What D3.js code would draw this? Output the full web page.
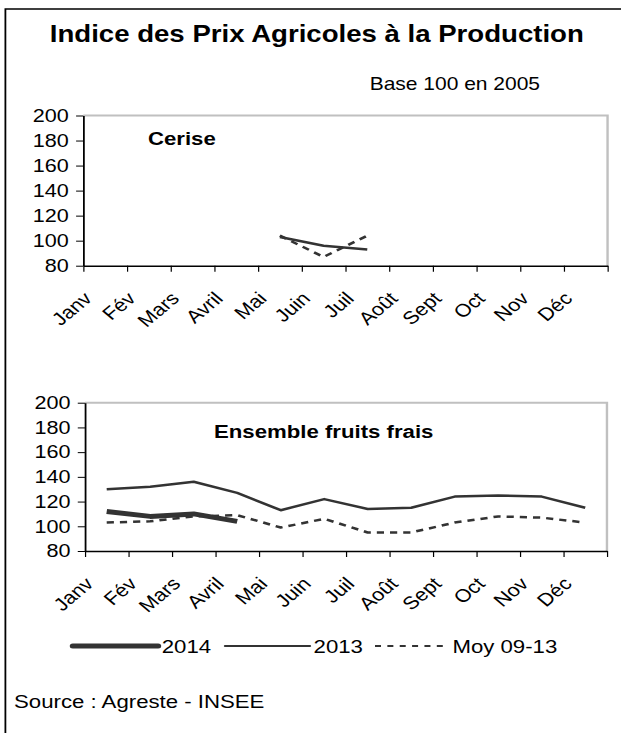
<!DOCTYPE html>
<html>
<head>
<meta charset="utf-8">
<script src="https://cdn.jsdelivr.net/npm/d3@7"></script>
<style>
  body { margin: 0; background: #fff; }
  svg { display: block; font-family: "Liberation Sans", Arial, sans-serif; }
</style>
</head>
<body>
<svg id="chart"></svg>
<script>
// Canvas size
const width = 621, height = 733;
const SX = 1.2; // the original picture is stretched sideways

// Data
const months = ["Janv", "Fév", "Mars", "Avril", "Mai", "Juin", "Juil", "Août", "Sept", "Oct", "Nov", "Déc"];
const yTicks = [80, 100, 120, 140, 160, 180, 200];

const cerise2014 = [null, null, null, null, null, null, null, null, null, null, null, null];
const cerise2013 = [null, null, null, null, 103, 96, 93, null, null, null, null, null];
const ceriseMoy  = [null, null, null, null, 104, 87, 104, null, null, null, null, null];

const fruits2014 = [112, 108, 110, 104, null, null, null, null, null, null, null, null];
const fruits2013 = [130, 132, 136, 127, 113, 122, 114, 115, 124, 125, 124, 115];
const fruitsMoy  = [103, 104, 108, 109, 99, 106, 95, 95, 103, 108, 107, 103];

const lineColor = "#333";

const svg = d3.select("#chart")
    .attr("width", width)
    .attr("height", height);

// everything is drawn in a narrower space, then stretched
const g = svg.append("g").attr("transform", `scale(${SX},1)`);

// outer frame, right and bottom sides fall outside the picture
g.append("rect")
    .attr("x", 4.5).attr("y", 9)
    .attr("width", 540).attr("height", 740)
    .attr("fill", "none")
    .attr("stroke", "black")
    .attr("stroke-width", 1.5);

// title
g.append("text")
    .attr("x", 264).attr("y", 42)
    .attr("text-anchor", "middle")
    .attr("font-size", 23)
    .attr("font-weight", "bold")
    .text("Indice des Prix Agricoles à la Production");

g.append("text")
    .attr("x", 450).attr("y", 90)
    .attr("text-anchor", "end")
    .attr("font-size", 17.5)
    .text("Base 100 en 2005");

// one small chart (panel) with its own scales
function drawPanel(opts) {
    const { left, right, top, bottom, label, labelX, labelY, series } = opts;

    const x = d3.scaleBand().domain(months).range([left, right]);
    const xEdge = d3.scaleLinear().domain([0, months.length]).range([left, right]);
    const y = d3.scaleLinear().domain([80, 200]).range([bottom, top]);

    // light grey box (top and right sides)
    g.append("path")
        .attr("d", `M${left},${top}H${right}V${bottom}`)
        .attr("fill", "none")
        .attr("stroke", "#c0c0c0")
        .attr("stroke-width", 2);

    // y axis
    const yAxis = g.append("g")
        .attr("transform", `translate(${left},0)`)
        .call(d3.axisLeft(y).tickValues(yTicks).tickSize(6).tickSizeOuter(0));
    yAxis.select(".domain").attr("stroke", "black").attr("stroke-width", 1.5);
    yAxis.selectAll(".tick line").attr("stroke", "black");
    yAxis.selectAll(".tick text")
        .attr("font-size", 18)
        .attr("font-family", "Liberation Sans, Arial, sans-serif")
        .attr("fill", "black")
        .attr("x", -12);

    // x axis: ticks sit between months
    const xAxis = g.append("g")
        .attr("transform", `translate(0,${bottom})`)
        .call(d3.axisBottom(xEdge).tickValues(d3.range(months.length + 1)).tickFormat("").tickSize(6).tickSizeOuter(0));
    xAxis.select(".domain").attr("stroke", "black").attr("stroke-width", 1.5);
    xAxis.selectAll(".tick line").attr("stroke", "black");

    // rotated month labels
    g.append("g").selectAll("text")
        .data(months)
        .enter().append("text")
        .attr("transform", d => `translate(${x(d) + x.bandwidth() / 2 - 10},${bottom + 34}) rotate(-45)`)
        .attr("text-anchor", "end")
        .attr("font-size", 18)
        .text(d => d);

    // panel label
    g.append("text")
        .attr("x", labelX).attr("y", labelY)
        .attr("font-size", 18.5)
        .attr("font-weight", "bold")
        .text(label);

    const line = d3.line()
        .defined(d => d != null)
        .x((d, i) => x(months[i]) + x.bandwidth() / 2)
        .y(d => y(d));

    series.forEach(s => {
        g.append("path")
            .datum(s.values)
            .attr("d", line)
            .attr("fill", "none")
            .attr("stroke", lineColor)
            .attr("stroke-width", s.width)
            .attr("stroke-dasharray", s.dash || null)
            .attr("stroke-linejoin", "round");
    });
}

drawPanel({
    left: 69.4, right: 506.3, top: 115.5, bottom: 265.7,
    label: "Cerise", labelX: 123.3, labelY: 145,
    series: [
        { values: ceriseMoy, width: 2.5, dash: "6,5" },
        { values: cerise2013, width: 2.5 },
        { values: cerise2014, width: 5 }
    ]
});

drawPanel({
    left: 70.8, right: 505.8, top: 402.7, bottom: 551,
    label: "Ensemble fruits frais", labelX: 178.3, labelY: 438,
    series: [
        { values: fruitsMoy, width: 2.5, dash: "6,5" },
        { values: fruits2013, width: 2.5 },
        { values: fruits2014, width: 5 }
    ]
});

// legend
const legendY = 646;
const legend = [
    { name: "2014", x1: 60.6, x2: 131.8, width: 5 },
    { name: "2013", x1: 187.5, x2: 258.3, width: 2 },
    { name: "Moy 09-13", x1: 312.5, x2: 374, width: 2, dash: "5,5.3" }
];
legend.forEach(l => {
    g.append("line")
        .attr("x1", l.x1).attr("x2", l.x2)
        .attr("y1", legendY).attr("y2", legendY)
        .attr("stroke", lineColor)
        .attr("stroke-width", l.width)
        .attr("stroke-dasharray", l.dash || null)
        .attr("stroke-linecap", l.dash ? "butt" : "round");
    g.append("text")
        .attr("x", l.x2 + 3).attr("y", legendY + 7)
        .attr("font-size", 18.5)
        .text(l.name);
});

// source
g.append("text")
    .attr("x", 11.7).attr("y", 708)
    .attr("font-size", 18.5)
    .text("Source : Agreste - INSEE");
</script>
</body>
</html>
